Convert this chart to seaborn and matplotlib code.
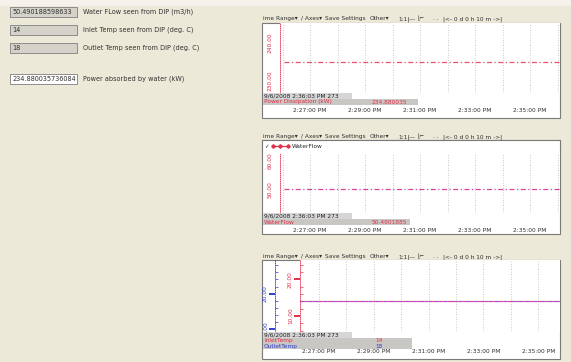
import matplotlib
matplotlib.use("Agg")
import matplotlib.pyplot as plt
import matplotlib.dates as mdates
from matplotlib.patches import Rectangle
from matplotlib.lines import Line2D
from matplotlib.ticker import FormatStrFormatter, MultipleLocator
import pandas as pd
import seaborn as sns

# ---- values ----
field_values = ["50.490188598633", "14", "18", "234.880035736084"]
field_labels = ["Water FLow seen from DIP (m3/h)", "Inlet Temp seen from DIP (deg. C)",
                "Outlet Temp seen from DIP (deg. C)", "Power absorbed by water (kW)"]

times = pd.to_datetime(["2008-09-06 14:26:03", "2008-09-06 14:36:03"])
power = [234.880035736084, 234.880035736084]
water_flow = [50.490188598633, 50.490188598633]
inlet_temp = [14, 14]
outlet_temp = [18, 18]
cursor_stamp = "9/6/2008 2:36:03 PM 273"
power_txt = "234.880035"
flow_txt = "50.4901885"

sns.set_style("white")
plt.rcParams['font.family'] = ['DejaVu Sans']

W, H = 571, 362
BG = '#ECE9D8'
RED = '#e0304a'
BLUE = '#2f3fd0'
FS = 4.2
FS_L = 4.7

fig = plt.figure(figsize=(W / 100, H / 100), dpi=100, facecolor=BG)


def box(x0, y0, x1, y1):
    return [x0 / W, 1 - y1 / H, (x1 - x0) / W, (y1 - y0) / H]


bg = fig.add_axes([0, 0, 1, 1], zorder=0)
bg.set_xlim(0, W)
bg.set_ylim(H, 0)
bg.axis('off')
top = fig.add_axes([0, 0, 1, 1], zorder=6)
top.set_xlim(0, W)
top.set_ylim(H, 0)
top.axis('off')
top.patch.set_alpha(0)

bg.add_patch(Rectangle((0, 0), W, 6, color='#F4F2EA', lw=0))

# left panel indicators
for i, (val, lab) in enumerate(zip(field_values, field_labels)):
    yc = [12, 30, 48, 79][i]
    fc = 'white' if i == 3 else '#D5D2CA'
    bg.add_patch(Rectangle((10, yc - 5), 67, 10, facecolor=fc, edgecolor='#8c8c8c', lw=0.7))
    bg.text(12, yc, val, fontsize=FS_L, va='center', ha='left', color='#303030')
    bg.text(83, yc, lab, fontsize=FS_L, va='center', ha='left', color='#303030')

toolbar = [("ime Range\u25be", 263), ("/ Axes\u25be", 301), ("Save Settings", 325), ("Other\u25be", 370),
           ("1:1|\u2014", 398), ("\u230a\u2310", 418), (". .", 433), ("|<- 0 d 0 h 10 m ->|", 443)]

fmt_time = mdates.DateFormatter('%-I:%M:%S %p')


def style_yaxis(ax, col, pos=None):
    for s in ['top', 'right', 'bottom']:
        ax.spines[s].set_visible(False)
    sp = ax.spines['left']
    sp.set_visible(True)
    if pos is not None:
        sp.set_position(pos)
    sp.set_color(col)
    sp.set_linestyle((0, (1, 1.5)))
    sp.set_linewidth(0.6)
    ax.yaxis.set_major_locator(MultipleLocator(10))
    ax.yaxis.set_minor_locator(MultipleLocator(2))
    ax.yaxis.set_major_formatter(FormatStrFormatter('%.2f'))
    ax.tick_params(axis='y', which='major', direction='out', length=4, width=1.4, color=col,
                   labelcolor=col, labelsize=FS, labelrotation=90, pad=1)
    ax.tick_params(axis='y', which='minor', direction='in', length=2, width=0.5, color=col)
    for lbl in ax.get_yticklabels():
        lbl.set_va('center')


def chart(c):
    for txt, x in toolbar:
        bg.text(x, c['tb'] + 2, txt, fontsize=FS, va='baseline', ha='left', color='#303030')
    bg.add_patch(Rectangle((262, c['ftop']), 298, c['fbot'] - c['ftop'],
                           facecolor='white', edgecolor='#7a7a7a', lw=0.8))

    ax = fig.add_axes(box(c['xa'], c['ptop'], 560, c['pbot']), zorder=2)
    ax.set_facecolor('white')
    ax.set_xlim(c['xlim'])
    ax.xaxis.set_major_locator(mdates.MinuteLocator())
    ax.grid(axis='x', which='major', color='#b8b8b8', ls=(0, (1, 2)), lw=0.6)
    ax.tick_params(axis='x', bottom=False, labelbottom=False)
    ax.set_ylim(c['ylim'])
    style_yaxis(ax, c['ycol'])

    # ruler with time labels
    rax = fig.add_axes(box(c['xa'], c['rtop'], 560, c['rtop'] + 7), zorder=3)
    rax.patch.set_alpha(0)
    rax.set_xlim(c['xlim'])
    rax.set_yticks([])
    for s in rax.spines.values():
        s.set_visible(False)
    rax.xaxis.set_major_locator(mdates.MinuteLocator(byminute=range(1, 60, 2)))
    rax.xaxis.set_minor_locator(mdates.SecondLocator(bysecond=[0, 15, 30, 45]))
    rax.xaxis.set_major_formatter(fmt_time)
    rax.tick_params(axis='x', which='major', direction='in', length=6, width=1.3, color='#202020',
                    labelsize=FS, labelcolor='#303030', pad=1.5)
    rax.tick_params(axis='x', which='minor', direction='in', length=2.5, width=0.5, color='#505050')

    # cursor readout bars
    rh = c['rh']
    top.add_patch(Rectangle((263, c['pbot']), 89, 6, facecolor='#D6D6D6', lw=0))
    top.text(264, c['pbot'] + 3, cursor_stamp, fontsize=FS, va='center', color='#202020')
    rows = c['rows']
    top.add_patch(Rectangle((263, c['pbot'] + 6), c['barw'], rh * len(rows), facecolor='#C9C7C3', lw=0))
    for k, (name, val, col) in enumerate(rows):
        yy = c['pbot'] + 6 + rh / 2 + rh * k
        top.text(264, yy, name, fontsize=FS, va='center', color=col)
        top.text(c['vx'], yy, val, fontsize=FS, va='center', color=col)
    return ax


# chart 1: power
t0 = pd.Timestamp("2008-09-06 14:25:54.5")
t1 = pd.Timestamp("2008-09-06 14:36:05.4")
ax1 = chart(dict(tb=18, ftop=23, fbot=118, ptop=23, pbot=93, rtop=99, xa=280, xlim=(t0, t1),
                 ylim=(226.84, 245.26), ycol=RED, barw=155, vx=372, rh=6,
                 rows=[("Power Dissipation (kW)", power_txt, RED)]))
sns.lineplot(x=times, y=power, ax=ax1, color='#e8506a', lw=0.9, linestyle=(0, (4, 2, 1, 2)))
ax1.set_xlim(t0, t1)
ax1.set_ylabel('')

# chart 2: water flow
bg.add_patch(Rectangle((262, 140), 298, 13, facecolor='white', edgecolor='#7a7a7a', lw=0.8))
bg.add_patch(Rectangle((264, 144), 5, 5, facecolor='white', edgecolor='#404040', lw=0.5))
bg.text(266.5, 146.5, "\u2713", fontsize=4, ha='center', va='center', color='#202020')
ax2 = chart(dict(tb=136, ftop=140, fbot=234, ptop=153, pbot=213, rtop=219, xa=280, xlim=(t0, t1),
                 ylim=(42.07, 62.76), ycol=RED, barw=147, vx=372, rh=6,
                 rows=[("WaterFlow", flow_txt, RED)]))
sns.lineplot(x=times, y=water_flow, ax=ax2, color='#d8449a', lw=0.9, linestyle=(0, (4, 2, 1, 2)))
ax2.set_xlim(t0, t1)
ax2.set_ylabel('')
handle = Line2D([], [], color=RED, lw=0.9, marker='D', markersize=1.8)
ax2.legend(handles=[handle], labels=['WaterFlow'], loc='center left',
           bbox_to_anchor=(271 / W, 1 - 146.5 / H), bbox_transform=fig.transFigure,
           frameon=False, numpoints=3, handlelength=3.2, handletextpad=0.3,
           borderaxespad=0, borderpad=0, fontsize=FS)

# chart 3: inlet / outlet temperature
u0 = pd.Timestamp("2008-09-06 14:26:18.4")
u1 = pd.Timestamp("2008-09-06 14:35:47.7")
ax3 = chart(dict(tb=256, ftop=260, fbot=359, ptop=260, pbot=332, rtop=340, xa=300, xlim=(u0, u1),
                 ylim=(5.6, 25.26), ycol=RED, barw=149, vx=375, rh=5.5,
                 rows=[("InletTemp", "14", RED), ("OutletTemp", "18", BLUE)]))
ax3b = ax3.twinx()
ax3b.patch.set_alpha(0)
ax3b.set_ylim(9.3, 29.4)
ax3b.yaxis.tick_left()
style_yaxis(ax3b, BLUE, pos=('outward', 18))
ax3b.tick_params(axis='x', bottom=False, labelbottom=False)
sns.lineplot(x=times, y=outlet_temp, ax=ax3b, color='#a050d0', lw=0.9, linestyle=(0, (3, 3)))
sns.lineplot(x=times, y=inlet_temp, ax=ax3, color='#e44890', lw=0.9, linestyle=(3, (3, 3)))
ax3.set_xlim(u0, u1)
ax3b.set_ylabel('')
ax3.set_ylabel('')

fig.savefig("out.png", dpi=100, facecolor=BG)
